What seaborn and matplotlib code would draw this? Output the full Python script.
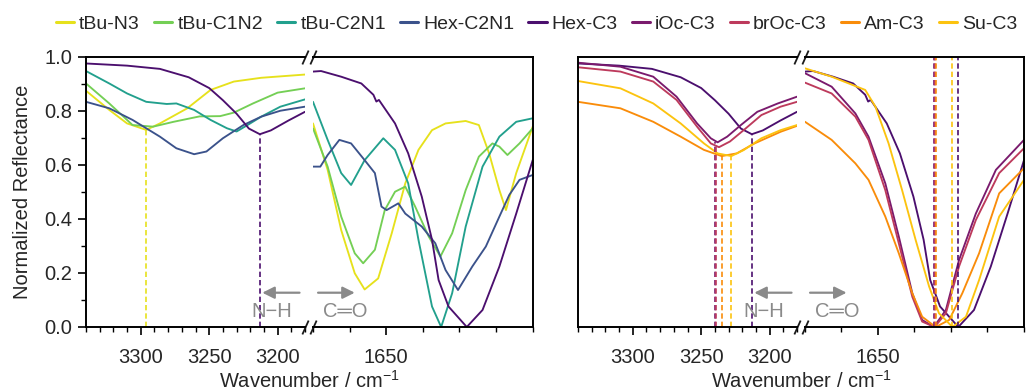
import numpy as np
import pandas as pd
import matplotlib
matplotlib.use("Agg")
import matplotlib.pyplot as plt
from matplotlib.lines import Line2D
import seaborn as sns

# ---------------- data ----------------
series_names = ["tBu-N3", "tBu-C1N2", "tBu-C2N1", "Hex-C2N1", "Hex-C3",
                "iOc-C3", "brOc-C3", "Am-C3", "Su-C3"]
series_colors = ["#e6e11c", "#74cf55", "#22a08d", "#3b528b", "#4b0f6e",
                 "#7a1a6d", "#bd3a5c", "#f98c0a", "#fcc30f"]
group1 = ["tBu-N3", "tBu-C1N2", "tBu-C2N1", "Hex-C2N1", "Hex-C3"]
group2 = ["Hex-C3", "iOc-C3", "brOc-C3", "Am-C3", "Su-C3"]

# N-H region (wavenumber, normalized reflectance)
nh_wn = {
    "tBu-N3":   [3340, 3323, 3310, 3296, 3286, 3266, 3249, 3232, 3212, 3180],
    "tBu-C1N2": [3340, 3323, 3306, 3291, 3276, 3257, 3242, 3232, 3218, 3200, 3180],
    "tBu-C2N1": [3340, 3323, 3310, 3296, 3281, 3274, 3261, 3249, 3237, 3230, 3222, 3212, 3198, 3180],
    "Hex-C2N1": [3340, 3323, 3306, 3286, 3274, 3261, 3252, 3240, 3225, 3212, 3198, 3180],
    "Hex-C3":   [3340, 3310, 3286, 3265, 3250, 3240, 3230, 3221, 3213, 3205, 3192, 3180],
    "iOc-C3":   [3340, 3309, 3285, 3268, 3253, 3243, 3238, 3231, 3221, 3209, 3194, 3180],
    "brOc-C3":  [3340, 3309, 3285, 3268, 3253, 3243, 3237, 3229, 3219, 3206, 3192, 3180],
    "Am-C3":    [3340, 3309, 3285, 3265, 3248, 3235, 3224, 3211, 3192, 3180],
    "Su-C3":    [3340, 3309, 3285, 3265, 3248, 3238, 3228, 3219, 3206, 3192, 3180],
}
nh_val = {
    "tBu-N3":   [0.875, 0.804, 0.754, 0.730, 0.754, 0.810, 0.878, 0.909, 0.923, 0.935],
    "tBu-C1N2": [0.902, 0.828, 0.748, 0.742, 0.760, 0.780, 0.781, 0.794, 0.828, 0.868, 0.884],
    "tBu-C2N1": [0.948, 0.902, 0.865, 0.834, 0.826, 0.828, 0.804, 0.767, 0.736, 0.724, 0.748, 0.779, 0.816, 0.843],
    "Hex-C2N1": [0.834, 0.810, 0.767, 0.705, 0.662, 0.640, 0.650, 0.699, 0.748, 0.779, 0.801, 0.816],
    "Hex-C3":   [0.976, 0.968, 0.956, 0.925, 0.885, 0.840, 0.790, 0.735, 0.714, 0.728, 0.765, 0.797],
    "iOc-C3":   [0.979, 0.964, 0.927, 0.853, 0.754, 0.699, 0.684, 0.705, 0.748, 0.797, 0.828, 0.853],
    "brOc-C3":  [0.962, 0.946, 0.909, 0.841, 0.742, 0.680, 0.666, 0.687, 0.729, 0.785, 0.816, 0.834],
    "Am-C3":    [0.834, 0.810, 0.760, 0.705, 0.656, 0.633, 0.643, 0.680, 0.723, 0.745],
    "Su-C3":    [0.911, 0.884, 0.828, 0.754, 0.680, 0.643, 0.633, 0.655, 0.699, 0.729, 0.748],
}

# C=O region
co_wn = {
    "tBu-N3":   [1670, 1666, 1662.3, 1658.6, 1655.9, 1652.2, 1648.5, 1644.8, 1641.2, 1637.5,
                 1633.8, 1628.3, 1624.7, 1621.9, 1619.1, 1617.3, 1614.5, 1610],
    "tBu-C1N2": [1670, 1666, 1662.3, 1658.6, 1656.3, 1653.1, 1650.4, 1647.6, 1644.8, 1642.1,
                 1638.4, 1635.2, 1632, 1628.3, 1624.7, 1621, 1619.1, 1616.9, 1613.6, 1610],
    "tBu-C2N1": [1670, 1666, 1662.3, 1659.6, 1655.9, 1650.8, 1647.6, 1644, 1641.2, 1637.5,
                 1635, 1632, 1628.3, 1623.7, 1619.1, 1614.5, 1610],
    "Hex-C2N1": [1670, 1668, 1666, 1662.8, 1659.6, 1655.9, 1653.1, 1651.3, 1649.9, 1646.7,
                 1644.8, 1640.3, 1636.6, 1633.8, 1630.4, 1626.5, 1622.8, 1619.1, 1616.4, 1613.6, 1610],
    "Hex-C3":   [1670, 1667.8, 1662.3, 1656.8, 1653.5, 1652.7, 1652, 1647.6, 1644, 1640.3,
                 1637.5, 1635.7, 1633, 1628, 1623.7, 1619.1, 1614.5, 1610],
    "iOc-C3":   [1670, 1662.7, 1656.2, 1652.6, 1648, 1644.3, 1640.6, 1637.9, 1634.7, 1631.4,
                 1627.8, 1623.2, 1617.7, 1610],
    "brOc-C3":  [1670, 1662.7, 1656.2, 1652.6, 1648, 1644.3, 1640.6, 1637.9, 1634.5, 1631.4,
                 1627.8, 1623.2, 1616.8, 1610],
    "Am-C3":    [1670, 1662.7, 1656.2, 1652.6, 1648, 1644.3, 1640.6, 1637.9, 1634.2, 1630.5,
                 1626.9, 1622.3, 1616.8, 1610],
    "Su-C3":    [1670, 1662.7, 1653.5, 1650.7, 1647.1, 1643.4, 1639.7, 1636, 1633.3, 1629.6,
                 1625.9, 1622.3, 1616.8, 1610],
}
co_val = {
    "tBu-N3":   [0.754, 0.582, 0.359, 0.199, 0.139, 0.180, 0.347, 0.532, 0.656, 0.729,
                 0.754, 0.763, 0.748, 0.643, 0.507, 0.433, 0.570, 0.742],
    "tBu-C1N2": [0.736, 0.594, 0.409, 0.273, 0.236, 0.286, 0.433, 0.501, 0.520, 0.446,
                 0.335, 0.261, 0.347, 0.507, 0.631, 0.680, 0.668, 0.637, 0.680, 0.736],
    "tBu-C2N1": [0.834, 0.693, 0.570, 0.526, 0.618, 0.699, 0.656, 0.532, 0.323, 0.076,
                 0.000, 0.125, 0.372, 0.594, 0.705, 0.760, 0.773],
    "Hex-C2N1": [0.594, 0.594, 0.637, 0.693, 0.680, 0.618, 0.570, 0.446, 0.433, 0.458,
                 0.420, 0.372, 0.310, 0.211, 0.137, 0.224, 0.298, 0.409, 0.489, 0.545, 0.563],
    "Hex-C3":   [0.946, 0.948, 0.927, 0.902, 0.860, 0.835, 0.841, 0.754, 0.643, 0.483,
                 0.323, 0.174, 0.076, 0.000, 0.063, 0.224, 0.420, 0.618],
    "iOc-C3":   [0.940, 0.890, 0.791, 0.705, 0.532, 0.335, 0.125, 0.026, 0.000, 0.063,
                 0.248, 0.420, 0.582, 0.693],
    "brOc-C3":  [0.905, 0.865, 0.779, 0.693, 0.507, 0.310, 0.112, 0.020, 0.000, 0.051,
                 0.224, 0.396, 0.570, 0.662],
    "Am-C3":    [0.760, 0.693, 0.606, 0.545, 0.409, 0.273, 0.125, 0.038, 0.000, 0.026,
                 0.125, 0.273, 0.495, 0.588],
    "Su-C3":    [0.958, 0.927, 0.878, 0.816, 0.680, 0.507, 0.323, 0.150, 0.051, 0.000,
                 0.038, 0.174, 0.409, 0.545],
}

# marked band positions (dashed lines)
g1_nh_peaks = {"tBu-N3": (3296, 0.730), "Hex-C3": (3213, 0.714)}
g2_nh_peaks = {"iOc-C3": (3240, 0.684), "brOc-C3": (3239, 0.666), "Am-C3": (3234.6, 0.633),
               "Su-C3": (3228, 0.633), "Hex-C3": (3213, 0.714)}
g2_co_peaks = {"iOc-C3": 1634.7, "brOc-C3": 1634.4, "Am-C3": 1634.1, "Su-C3": 1629.6, "Hex-C3": 1628.0}

# ---------------- style ----------------
sns.set_theme(style="ticks")
plt.rcParams["font.family"] = ["Liberation Sans", "DejaVu Sans"]
plt.rcParams["font.size"] = 14
plt.rcParams["mathtext.fontset"] = "custom"
plt.rcParams["mathtext.rm"] = "Liberation Sans"
plt.rcParams["mathtext.default"] = "regular"

cmap = dict(zip(series_names, series_colors))

W, H = 1036, 392
fig = plt.figure(figsize=(W / 100, H / 100), dpi=100)

def frac_ax(x0, x1, y0=57, y1=327):
    return fig.add_axes([x0 / W, 1 - y1 / H, (x1 - x0) / W, (y1 - y0) / H])

ax1 = frac_ax(86, 305)
ax2 = frac_ax(313, 532.7)
ax3 = frac_ax(578, 797)
ax4 = frac_ax(805, 1024)

LW = 1.35
DASH = (0, (3.2, 1.8))

def draw_curves(ax, names, wn, val):
    for n in names:
        df = pd.DataFrame({"wn": wn[n], "r": val[n]})
        sns.lineplot(data=df, x="wn", y="r", ax=ax, color=cmap[n], lw=LW,
                     sort=False, estimator=None, legend=False)

draw_curves(ax1, group1, nh_wn, nh_val)
draw_curves(ax2, group1, co_wn, co_val)
for n, (p, v) in g1_nh_peaks.items():
    ax1.vlines(p, 0, v, colors=cmap[n], linestyles=DASH, lw=1.2)

draw_curves(ax3, group2, nh_wn, nh_val)
draw_curves(ax4, group2, co_wn, co_val)
for n, (p, v) in g2_nh_peaks.items():
    ax3.vlines(p, 0, v, colors=cmap[n], linestyles=DASH, lw=1.2)
for n, p in g2_co_peaks.items():
    ax4.vlines(p, 0, 1, colors=cmap[n], linestyles=DASH, lw=1.2)

# axes formatting
for ax in (ax1, ax3):
    ax.set_xlim(3340, 3180)
    ax.set_xticks([3300, 3250, 3200])
    ax.set_xticks(np.arange(3340, 3179, -10), minor=True)
    ax.spines["right"].set_visible(False)
for ax in (ax2, ax4):
    ax.set_xlim(1670, 1610)
    ax.set_xticks([1650])
    ax.set_xticks(np.arange(1670, 1609, -10), minor=True)
    ax.spines["left"].set_visible(False)
    ax.tick_params(axis="y", which="both", left=False, labelleft=False)

for ax in (ax1, ax2, ax3, ax4):
    ax.set_ylim(0, 1)
    ax.set_xlabel("")
    ax.set_ylabel("")
    for s in ax.spines.values():
        s.set_linewidth(1.4)
        s.set_color("black")
    ax.tick_params(axis="x", which="major", direction="out", length=6, width=1.2,
                   labelsize=14.5, pad=9, color="black")
    ax.tick_params(axis="x", which="minor", direction="out", length=3.5, width=1.0, color="black")

ax1.set_yticks(np.arange(0, 1.01, 0.2))
ax1.set_yticks(np.arange(0, 1.01, 0.1), minor=True)
ax1.set_yticklabels([f"{v:.1f}" for v in np.arange(0, 1.01, 0.2)])
ax1.tick_params(axis="y", which="major", direction="out", length=6, width=1.2, labelsize=14.5,
                pad=4, color="black")
ax1.tick_params(axis="y", which="minor", direction="out", length=3.5, width=1.0, color="black")
ax1.set_ylabel("Normalized Reflectance", fontsize=14.5, labelpad=9)
ax3.tick_params(axis="y", which="both", left=False, labelleft=False)

# break marks
kw = dict(marker=[(-0.45, -1), (0.45, 1)], markersize=10, linestyle="none",
          color="k", mec="k", mew=1.3, clip_on=False)
for axl, axr in ((ax1, ax2), (ax3, ax4)):
    axl.plot([1, 1], [0, 1], transform=axl.transAxes, **kw)
    axr.plot([0, 0], [0, 1], transform=axr.transAxes, **kw)

# N-H / C=O annotations
gray = "#8a8a8a"
for axl, axr in ((ax1, ax2), (ax3, ax4)):
    axl.annotate("", xy=(0.805, 0.127), xytext=(0.975, 0.127), xycoords="axes fraction",
                 arrowprops=dict(arrowstyle="-|>", color=gray, lw=1.6, mutation_scale=18,
                                 shrinkA=0, shrinkB=0))
    axl.text(0.848, 0.056, "N\u2212H", transform=axl.transAxes, color=gray,
             fontsize=14.5, ha="center", va="center")
    axr.annotate("", xy=(0.19, 0.127), xytext=(0.023, 0.127), xycoords="axes fraction",
                 arrowprops=dict(arrowstyle="-|>", color=gray, lw=1.6, mutation_scale=18,
                                 shrinkA=0, shrinkB=0))
    axr.text(0.145, 0.056, "C\u2550O", transform=axr.transAxes, color=gray,
             fontsize=14.5, ha="center", va="center")

# x labels
for xc in (309, 801):
    fig.text(xc / W, 1 - 381 / H, "Wavenumber / cm$^{-1}$", ha="center", va="center", fontsize=14.5)

# legend
handles = [Line2D([0], [0], color=cmap[n], lw=2.2) for n in series_names]
fig.legend(handles, series_names, loc="center", bbox_to_anchor=(0.518, 1 - 24 / H),
           ncol=9, frameon=False, fontsize=14, handlelength=0.95, handletextpad=0.25,
           columnspacing=0.72, borderaxespad=0)

fig.savefig("out.png", dpi=100)
